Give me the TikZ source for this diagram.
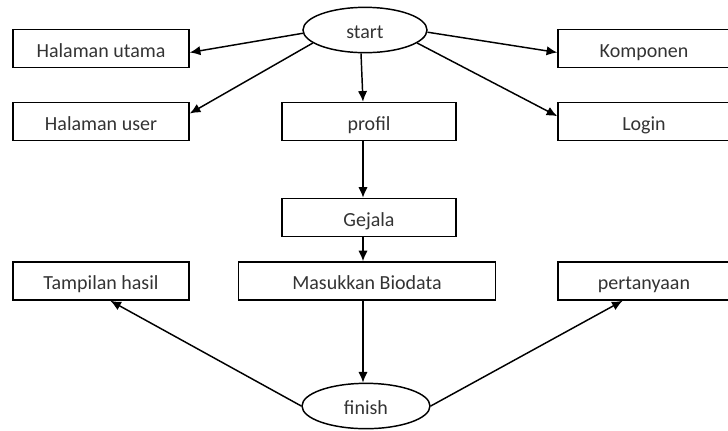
\documentclass[tikz,border=0pt]{standalone}
\usepackage{fontspec}
\setmainfont{Carlito}
\usetikzlibrary{arrows.meta,shapes.geometric}

\tikzset{
  label font/.style={font=\fontsize{15}{17}\selectfont, text=black!80, text height=13pt, text depth=0pt},
  box/.style={draw, line width=1.1pt, minimum height=28.5pt, inner sep=0pt, label font},
  oval/.style={draw, ellipse, line width=1.1pt, inner sep=0pt, label font},
  flow/.style={line width=1.1pt, -{Latex[length=8pt,width=7pt]}}
}

\begin{document}
\begin{tikzpicture}[x=0.75pt,y=-0.75pt]
\useasboundingbox (0,0) rectangle (728,430);

% terminals
\node[oval, minimum width=93pt, minimum height=34pt] (start) at (365,30) {start};
\node[oval, minimum width=96pt, minimum height=34pt] (finish) at (366,406) {finish};

% top row
\node[box, minimum width=132pt] (utama) at (101,48.5) {Halaman utama};
\node[box, minimum width=129pt] (komponen) at (644,48.5) {Komponen};

% second row
\node[box, minimum width=132pt] (user) at (101,121.5) {Halaman user};
\node[box, minimum width=130.5pt] (profil) at (369,121.5) {profil};
\node[box, minimum width=129pt] (login) at (644,121.5) {Login};

% middle column
\node[box, minimum width=130.5pt] (gejala) at (369,217.5) {Gejala};
\node[box, minimum width=193pt] (biodata) at (367,281) {Masukkan Biodata};

% bottom row
\node[box, minimum width=132pt] (hasil) at (101,281) {Tampilan hasil};
\node[box, minimum width=129pt] (tanya) at (644,281) {pertanyaan};

% connectors from start
\draw[flow] (start.183) -- ([yshift=-3pt]utama.east);
\draw[flow] (start.194) -- ([yshift=6pt]user.east);
\draw[flow] ([xshift=-3pt]start.south) -- ([xshift=-4.5pt]profil.north);
\draw[flow] (start.-2) -- ([yshift=-3pt]komponen.west);
\draw[flow] (start.-14) -- ([yshift=4pt]login.west);

% main column
\draw[flow] ([xshift=-4.5pt]profil.south) -- ([xshift=-4.5pt]gejala.north);
\draw[flow] ([xshift=-4.5pt]gejala.south) -- ([xshift=-3pt]biodata.north);
\draw[flow] ([xshift=-3pt]biodata.south) -- ([xshift=-2.25pt]finish.north);

% connectors from finish
\draw[flow] (finish.west) -- ([xshift=7pt]hasil.south);
\draw[flow] (finish.east) -- ([xshift=-16pt]tanya.south);
\end{tikzpicture}
\end{document}
